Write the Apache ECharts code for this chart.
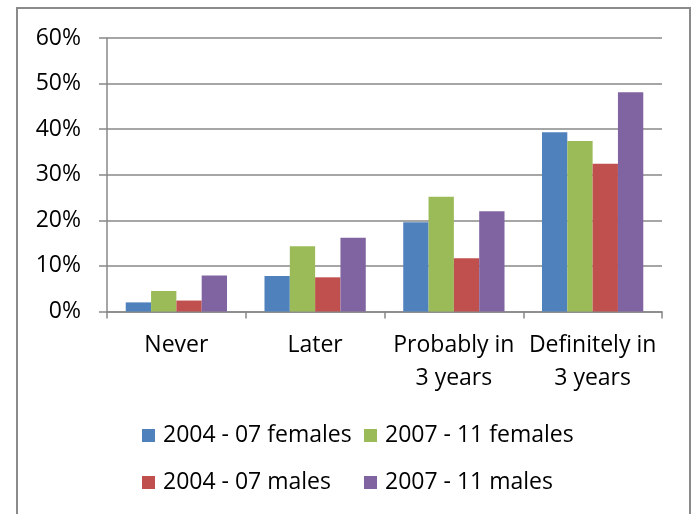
<!DOCTYPE html>
<html>
<head>
<meta charset="utf-8">
<script src="https://cdn.jsdelivr.net/npm/echarts@6/dist/echarts.min.js"></script>
<style>
html,body{margin:0;padding:0;background:#fff;}
#c{width:696px;height:514px;}
</style>
</head>
<body>
<div id="c"></div>
<script>
var categories = ["Never", "Later", "Probably in\n3 years", "Definitely in\n3 years"];
var seriesNames = ["2004 - 07 females", "2007 - 11 females", "2004 - 07 males", "2007 - 11 males"];
var females0407 = [2.0, 7.8, 19.6, 39.3];
var females0711 = [4.5, 14.3, 25.2, 37.4];
var males0407 = [2.4, 7.5, 11.7, 32.4];
var males0711 = [7.9, 16.2, 22.0, 48.1];
var yTicks = [0, 10, 20, 30, 40, 50, 60];
var colors = ["#4F81BD", "#9BBB59", "#C0504D", "#8064A2"];

var FONT = "'Open Sans', 'Noto Sans', sans-serif";
var chart = echarts.init(document.getElementById('c'), null, {renderer: 'canvas'});
var dataSets = [females0407, females0711, males0407, males0711];

function legendAt(name, left, top) {
  return {
    data: [name], left: left, top: top, padding: 0,
    itemWidth: 13, itemHeight: 13, icon: 'rect',
    textStyle: {fontFamily: FONT, fontSize: 23, color: '#000', padding: [0, 0, 0, 3]}
  };
}

chart.setOption({
  animation: false,
  color: colors,
  graphic: [{
    type: 'rect', shape: {x: 17, y: 8, width: 673, height: 530},
    style: {fill: 'none', stroke: '#8a8a8a', lineWidth: 2}, silent: true, z: 0
  }],
  legend: [
    legendAt(seriesNames[0], 142, 424),
    legendAt(seriesNames[1], 364, 424),
    legendAt(seriesNames[2], 142, 471),
    legendAt(seriesNames[3], 364, 471)
  ],
  grid: {left: 107, right: 34, top: 38, bottom: 202.5, containLabel: false},
  xAxis: {
    type: 'category', data: categories,
    axisLine: {lineStyle: {color: '#888', width: 1.5}},
    axisTick: {show: true, length: 7, lineStyle: {color: '#888', width: 1.5}},
    axisLabel: {fontFamily: FONT, fontSize: 23, color: '#000', lineHeight: 33, margin: 17, interval: 0}
  },
  yAxis: {
    type: 'value', min: yTicks[0], max: yTicks[yTicks.length - 1], interval: 10,
    axisLine: {show: true, lineStyle: {color: '#888', width: 1.5}},
    axisTick: {show: true, length: 8, lineStyle: {color: '#888', width: 1.5}},
    splitLine: {lineStyle: {color: '#888', width: 1.5}},
    axisLabel: {fontFamily: FONT, fontSize: 23, color: '#000', margin: 26, formatter: '{value}%'}
  },
  series: dataSets.map(function (d, i) {
    return {
      name: seriesNames[i], type: 'bar', data: d,
      barGap: '0%', barCategoryGap: '27%',
      itemStyle: {color: colors[i]}
    };
  })
});
</script>
</body>
</html>
